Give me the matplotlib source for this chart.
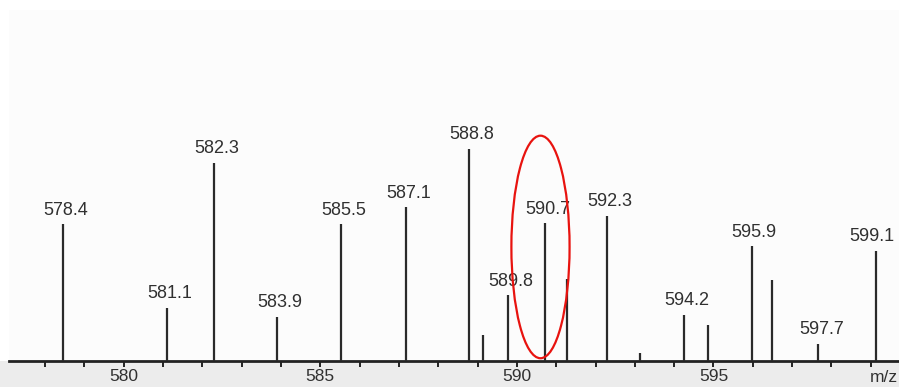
import matplotlib
matplotlib.use("Agg")
import matplotlib.pyplot as plt
from matplotlib.patches import Ellipse, Rectangle

# peak positions (m/z) and relative intensities (% of base peak)
mz = [578.45, 581.1, 582.3, 583.9, 585.52, 587.18, 588.78, 589.13, 589.78, 590.72,
      591.27, 592.3, 593.14, 594.24, 594.87, 595.97, 596.5, 597.67, 599.13]
intensity = [64.6, 25.0, 93.4, 20.8, 64.6, 72.6, 100.0, 12.3, 31.0, 65.0,
             38.7, 68.4, 3.8, 21.7, 17.0, 54.2, 38.2, 8.0, 51.9]
peak_labels = ["578.4", "581.1", "582.3", "583.9", "585.5", "587.1", "588.8", "", "589.8", "590.7",
               "", "592.3", "", "594.2", "", "595.9", "", "597.7", "599.1"]
major_ticks = [580, 585, 590, 595]
major_labels = ["580", "585", "590", "595"]
minor_ticks = list(range(578, 600))
x_unit = "m/z"
highlight_mz = 590.6

W, H = 899, 387
fig = plt.figure(figsize=(W / 100, H / 100), dpi=100)
fig.patch.set_facecolor("white")

# grey strip below axis
fig.add_artist(Rectangle((0, 0), 1, (H - 361) / H, transform=fig.transFigure,
                         facecolor="#ececec", edgecolor="none", zorder=0))

ax = fig.add_axes([9 / W, (H - 361) / H, 1 - 9 / W, (361 - 10) / H])
ax.set_facecolor("#fcfcfc")
ax.set_xlim(577.08, 599.72)
ax.set_ylim(0, 165.6)

txt_font = ["Liberation Sans", "DejaVu Sans"]

for i, (x, y, lab) in enumerate(zip(mz, intensity, peak_labels)):
    ax.vlines(x, 0, y, color="#2a2a2a", lw=1.6, zorder=3)
    if lab:
        dx = 2 if i < len(mz) - 1 else -2.5
        ax.annotate(lab, (x, y), xytext=(dx, 4), textcoords="offset points",
                    ha="center", va="bottom", fontsize=13, color="#303030",
                    family=txt_font, zorder=4)

ax.add_patch(Ellipse((highlight_mz, 53.8), 1.48, 105, fill=False,
                     edgecolor="#e8130f", lw=1.6, zorder=5))

for s in ["top", "right", "left"]:
    ax.spines[s].set_visible(False)
ax.spines["bottom"].set_color("#222222")
ax.spines["bottom"].set_linewidth(2.0)
ax.set_yticks([])
ax.set_xticks(major_ticks)
ax.set_xticklabels(major_labels, family=txt_font, fontsize=12.5, color="#303030")
ax.set_xticks(minor_ticks, minor=True)
ax.tick_params(axis="x", which="both", direction="out", length=4, width=1.4,
               color="#222222", pad=1.5)
ax.text(0.999, -0.025, x_unit, transform=ax.transAxes, ha="right", va="top",
        fontsize=12.5, color="#303030", family=txt_font, clip_on=False)

fig.savefig("out.png", dpi=100, facecolor="white")
